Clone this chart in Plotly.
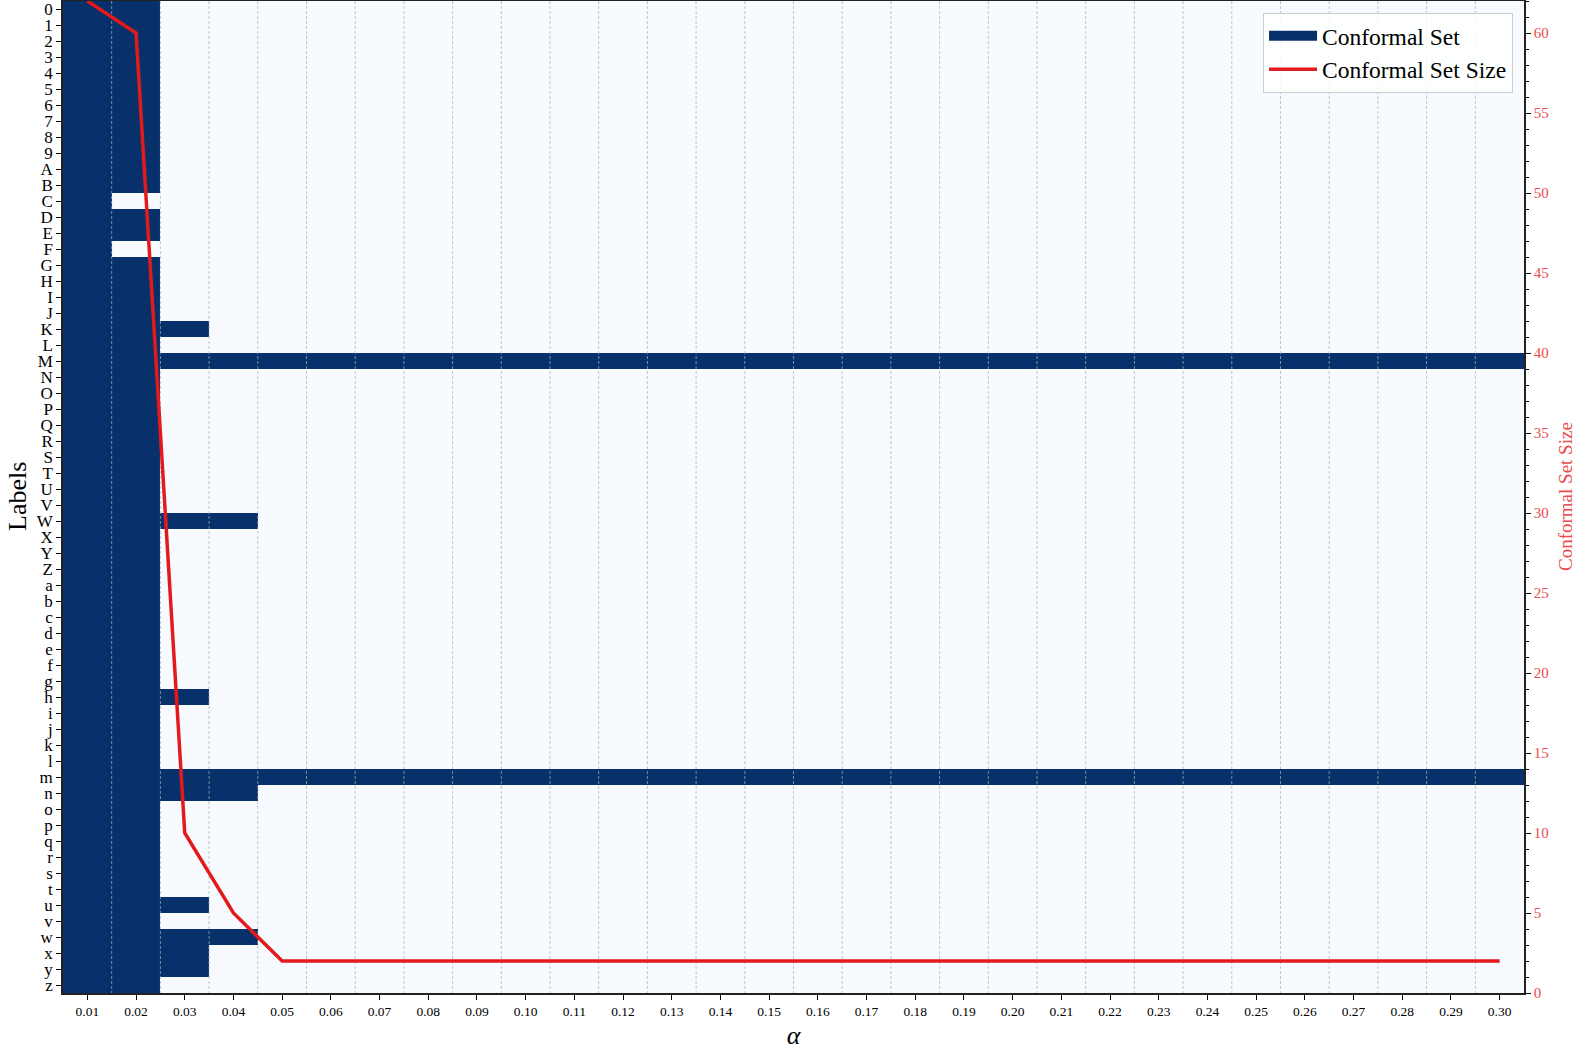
import plotly.graph_objects as go

labels = list("0123456789ABCDEFGHIJKLMNOPQRSTUVWXYZabcdefghijklmnopqrstuvwxyz")
alphas = [0.01, 0.02, 0.03, 0.04, 0.05, 0.06, 0.07, 0.08, 0.09, 0.10,
          0.11, 0.12, 0.13, 0.14, 0.15, 0.16, 0.17, 0.18, 0.19, 0.20,
          0.21, 0.22, 0.23, 0.24, 0.25, 0.26, 0.27, 0.28, 0.29, 0.30]
alpha_ticktext = ["%.2f" % a for a in alphas]

# largest alpha at which each label is still in the conformal set (default 0.02)
only_at_001 = ["C", "F"]
through_003 = ["K", "h", "u", "x", "y"]
through_004 = ["W", "n", "w"]
through_030 = ["M", "m"]
default_last = 0.02

set_size = [62, 60, 10, 5, 2, 2, 2, 2, 2, 2,
            2, 2, 2, 2, 2, 2, 2, 2, 2, 2,
            2, 2, 2, 2, 2, 2, 2, 2, 2, 2]

last_alpha = {}
for lab in labels:
    if lab in only_at_001:
        last_alpha[lab] = 0.01
    elif lab in through_003:
        last_alpha[lab] = 0.03
    elif lab in through_004:
        last_alpha[lab] = 0.04
    elif lab in through_030:
        last_alpha[lab] = 0.30
    else:
        last_alpha[lab] = default_last

z = [[1 if a <= last_alpha[lab] + 1e-9 else 0 for a in alphas] for lab in labels]
row_idx = list(range(len(labels)))

NAVY = "#08306b"
LIGHT = "#f7fbff"
RED = "#e31a1c"
RED_TXT = "#ec4a4a"
FONT = "Liberation Serif, DejaVu Serif, serif"

fig = go.Figure()
fig.add_trace(go.Heatmap(
    x=alphas, y=row_idx, z=z,
    colorscale=[[0, LIGHT], [1, NAVY]], zmin=0, zmax=1,
    showscale=False, hoverinfo="skip",
))

# dashed vertical grid lines at cell boundaries (drawn above the heatmap)
gx, gy = [], []
for i in range(len(alphas) - 1):
    b = (alphas[i] + alphas[i + 1]) / 2
    gx += [b, b, None]
    gy += [-0.5, len(labels) - 0.5, None]
fig.add_trace(go.Scatter(
    x=gx, y=gy, mode="lines",
    line=dict(color="rgba(176,176,176,0.9)", width=0.8, dash="3px,2px"),
    showlegend=False, hoverinfo="skip",
))

# legend proxy for the set cells
fig.add_trace(go.Scatter(
    x=[None], y=[None], mode="lines", name="Conformal Set",
    line=dict(color=NAVY, width=16), yaxis="y2",
))
fig.add_trace(go.Scatter(
    x=alphas, y=set_size, mode="lines", name="Conformal Set Size",
    line=dict(color=RED, width=3.5), yaxis="y2",
))

fig.update_layout(
    width=1578, height=1050,
    margin=dict(l=63, r=54, t=1, b=57),
    paper_bgcolor="white", plot_bgcolor=LIGHT,
    font=dict(family=FONT, color="black"),
    xaxis=dict(
        range=[0.005, 0.305], tickvals=alphas, ticktext=alpha_ticktext,
        tickfont=dict(size=13.5), ticks="outside", ticklen=5, tickcolor="black",
        showgrid=False, zeroline=False, showline=True, linecolor="#222",
        linewidth=1.5, mirror=True, automargin=False,
        title=dict(text="<i>α</i>", font=dict(size=26), standoff=8),
    ),
    yaxis=dict(
        range=[len(labels) - 0.5, -0.5], tickvals=row_idx, ticktext=labels,
        tickfont=dict(size=17), ticks="outside", ticklen=5, tickcolor="black",
        showgrid=False, zeroline=False, showline=True, linecolor="#222",
        linewidth=1.5, automargin=False, ticklabeloverflow="allow",
    ),
    yaxis2=dict(
        overlaying="y", side="right", range=[0, 62],
        tickvals=[0, 5, 10, 15, 20, 25, 30, 35, 40, 45, 50, 55, 60],
        tickfont=dict(size=15, color=RED_TXT), ticks="outside", ticklen=5,
        tickcolor="black",
        minor=dict(dtick=1, ticks="outside", ticklen=3, tickcolor="black"),
        showgrid=False, zeroline=False, showline=True, linecolor="#222",
        linewidth=1.5, automargin=False,
    ),
    legend=dict(
        x=0.9925, y=0.988, xanchor="right", yanchor="top",
        bgcolor="rgba(255,255,255,0.85)", bordercolor="#cccccc", borderwidth=1,
        font=dict(size=23.5, family=FONT), itemwidth=48,
    ),
    annotations=[
        dict(text="Labels", xref="paper", yref="paper", x=0, y=0.5,
             xanchor="center", yanchor="middle",
             xshift=-46, textangle=-90, showarrow=False,
             font=dict(size=26, family=FONT, color="black")),
        dict(text="Conformal Set Size", xref="paper", yref="paper", x=1, y=0.5,
             xanchor="center", yanchor="middle",
             xshift=41, textangle=-90, showarrow=False,
             font=dict(size=19, family=FONT, color=RED_TXT)),
    ],
)

fig.write_html("out.html", config={"displayModeBar": False},
               post_script="document.body.style.margin='0';")
